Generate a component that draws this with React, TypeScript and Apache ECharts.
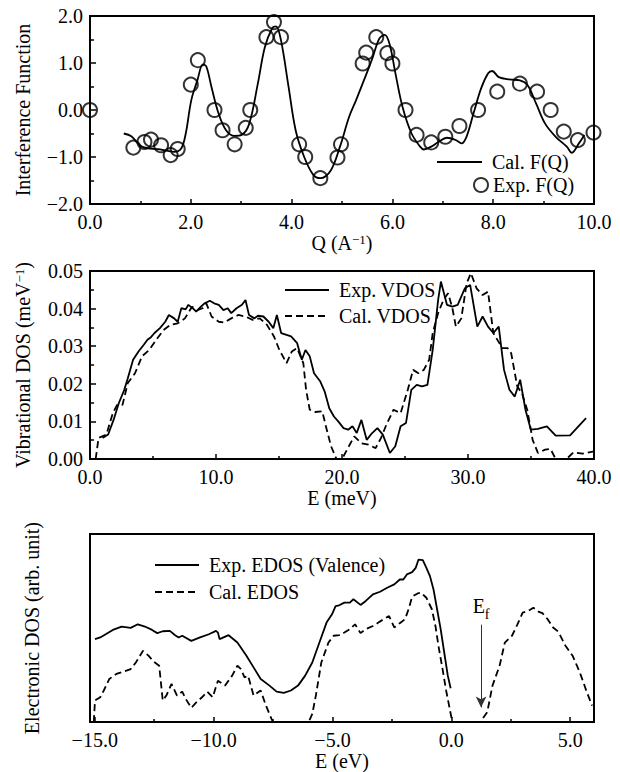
import React, { useEffect, useRef } from "react";
import * as echarts from "echarts";

const FONT = '"Liberation Serif", "Times New Roman", Times, serif';

// ---------- Panel 1: interference function ----------
const expQ = [0.0, 0.86, 1.08, 1.21, 1.41, 1.6, 1.74, 2.0, 2.14, 2.47, 2.63, 2.87, 3.09, 3.18, 3.5, 3.65, 3.79, 4.15, 4.27, 4.57, 4.91, 4.98, 5.41, 5.48, 5.68, 5.9, 6.0, 6.26, 6.48, 6.77, 7.05, 7.33, 7.7, 8.08, 8.53, 8.87, 9.14, 9.4, 9.68, 9.99];
const expF = [0.0, -0.8, -0.68, -0.63, -0.75, -0.96, -0.83, 0.54, 1.06, 0.0, -0.43, -0.73, -0.38, 0.0, 1.55, 1.87, 1.55, -0.73, -1.0, -1.45, -1.01, -0.73, 0.99, 1.22, 1.55, 1.21, 0.99, 0.0, -0.53, -0.69, -0.57, -0.34, 0.0, 0.39, 0.56, 0.39, 0.0, -0.46, -0.64, -0.48];

const calQ = [0.67, 0.82, 1.03, 1.39, 1.67, 1.81, 1.9, 2.01, 2.13, 2.24, 2.31, 2.41, 2.55, 2.7, 2.87, 3.01, 3.16, 3.33, 3.47, 3.62, 3.69, 3.79, 3.94, 4.08, 4.25, 4.43, 4.57, 4.78, 4.96, 5.14, 5.28, 5.46, 5.6, 5.74, 5.85, 5.95, 6.06, 6.2, 6.38, 6.55, 6.62, 6.77, 6.91, 7.08, 7.26, 7.37, 7.47, 7.61, 7.76, 7.9, 7.98, 8.11, 8.32, 8.53, 8.68, 8.85, 9.03, 9.24, 9.46, 9.56, 9.7, 9.81];
const calF = [-0.5, -0.56, -0.78, -0.84, -0.89, -0.82, -0.5, 0.21, 0.63, 0.97, 0.92, 0.49, -0.07, -0.43, -0.55, -0.53, -0.29, 0.56, 1.34, 1.75, 1.78, 1.48, 0.49, -0.43, -1.0, -1.38, -1.45, -1.28, -0.78, -0.15, 0.21, 0.7, 1.09, 1.52, 1.6, 1.38, 0.78, 0.07, -0.5, -0.78, -0.84, -0.78, -0.68, -0.59, -0.64, -0.71, -0.57, -0.07, 0.46, 0.78, 0.83, 0.7, 0.65, 0.63, 0.53, 0.14, -0.29, -0.57, -0.78, -0.91, -0.71, -0.53];

// ---------- Panel 2: vibrational DOS ----------
const expVE = [1.0, 1.44, 1.87, 2.29, 2.72, 3.0, 3.42, 3.85, 4.27, 4.56, 4.84, 5.12, 5.55, 5.97, 6.26, 6.68, 6.96, 7.25, 7.59, 7.81, 8.15, 8.43, 8.8, 9.09, 9.51, 9.85, 10.22, 10.59, 10.93, 11.21, 11.63, 12.06, 12.34, 12.62, 13.05, 13.33, 13.76, 14.18, 14.55, 14.83, 15.17, 15.6, 15.96, 16.44, 16.81, 17.1, 17.44, 17.78, 18.28, 18.62, 18.99, 19.36, 19.7, 20.12, 20.49, 20.83, 21.17, 21.54, 21.96, 22.39, 22.81, 23.24, 23.8, 24.23, 24.65, 25.08, 25.5, 25.93, 26.35, 26.78, 27.2, 27.63, 27.85, 28.33, 28.76, 29.18, 29.75, 30.17, 30.74, 31.16, 31.59, 32.01, 32.44, 32.86, 33.29, 33.71, 34.14, 34.56, 34.99, 35.55, 36.26, 36.96, 38.1, 39.37];
const expV = [0.0056, 0.0065, 0.0104, 0.0149, 0.0184, 0.0215, 0.0264, 0.0286, 0.0304, 0.0317, 0.0324, 0.0335, 0.0348, 0.0365, 0.0383, 0.0374, 0.0365, 0.0401, 0.0398, 0.041, 0.0401, 0.0392, 0.0405, 0.0414, 0.0421, 0.0414, 0.041, 0.0396, 0.0401, 0.0388, 0.0401, 0.041, 0.0423, 0.0383, 0.0374, 0.0381, 0.0379, 0.0365, 0.0348, 0.0383, 0.0335, 0.033, 0.0326, 0.0308, 0.0264, 0.029, 0.0273, 0.0228, 0.0206, 0.018, 0.0135, 0.0113, 0.01, 0.0082, 0.0078, 0.0087, 0.0069, 0.0104, 0.0051, 0.0069, 0.0082, 0.0065, 0.0016, 0.0034, 0.0087, 0.0096, 0.0184, 0.0197, 0.0193, 0.0197, 0.029, 0.0423, 0.0472, 0.041, 0.0405, 0.041, 0.0454, 0.0463, 0.0352, 0.0379, 0.0352, 0.0335, 0.0352, 0.0237, 0.0184, 0.0166, 0.0211, 0.0131, 0.0078, 0.008, 0.0087, 0.0062, 0.0063, 0.0109];

const calVE = [0.45, 0.68, 1.3, 1.81, 2.15, 2.58, 3.0, 3.57, 4.13, 4.7, 5.26, 5.83, 6.4, 6.96, 7.53, 8.1, 8.52, 8.94, 9.23, 9.65, 10.22, 10.64, 11.21, 11.77, 12.34, 12.91, 13.47, 14.04, 14.6, 15.03, 15.6, 16.02, 16.44, 16.93, 17.15, 17.44, 17.86, 18.43, 18.79, 19.13, 19.56, 20.0, 20.4, 20.97, 21.54, 22.1, 22.67, 23.1, 23.52, 24.09, 24.65, 25.22, 25.64, 26.07, 26.49, 26.92, 27.2, 27.63, 28.05, 28.42, 28.76, 29.04, 29.47, 29.89, 30.23, 30.68, 31.16, 31.59, 32.01, 32.72, 33.14, 33.43, 33.91, 34.28, 34.7, 35.13, 35.55, 36.12, 36.54, 36.96, 37.82, 38.38, 39.09, 40.0];
const calV = [0.0, 0.0056, 0.0065, 0.0122, 0.0144, 0.0144, 0.0202, 0.0228, 0.0273, 0.029, 0.0317, 0.0343, 0.0357, 0.0361, 0.0374, 0.0405, 0.0396, 0.0401, 0.0414, 0.0379, 0.0365, 0.0363, 0.0374, 0.0383, 0.0379, 0.037, 0.0374, 0.0357, 0.0326, 0.029, 0.0255, 0.0286, 0.0295, 0.0255, 0.0184, 0.0131, 0.0125, 0.0127, 0.0078, 0.0034, 0.0, 0.0, 0.0025, 0.006, 0.0042, 0.0038, 0.0029, 0.0056, 0.0091, 0.0131, 0.0122, 0.0184, 0.0237, 0.0228, 0.0237, 0.0264, 0.0335, 0.0388, 0.0423, 0.0441, 0.0401, 0.0352, 0.0374, 0.0467, 0.0494, 0.0454, 0.0436, 0.0445, 0.0335, 0.0295, 0.0295, 0.0281, 0.0193, 0.0175, 0.0131, 0.0051, 0.0016, 0.0025, 0.0027, 0.0, 0.0, 0.0018, 0.0014, 0.002];

// ---------- Panel 3: electronic DOS (arb. unit) ----------
const expEE = [-14.99, -14.77, -14.54, -14.24, -13.87, -13.49, -13.19, -12.89, -12.59, -12.37, -12.14, -11.84, -11.62, -11.47, -11.32, -10.94, -10.57, -10.2, -9.9, -9.82, -9.75, -9.37, -9.0, -8.62, -8.32, -8.02, -7.65, -7.35, -7.05, -6.75, -6.45, -6.15, -5.85, -5.55, -5.25, -5.02, -4.87, -4.72, -4.5, -4.27, -4.12, -3.82, -3.6, -3.3, -3.0, -2.7, -2.4, -2.17, -2.02, -1.87, -1.65, -1.5, -1.38, -1.2, -1.05, -0.9, -0.75, -0.6, -0.45, -0.3, -0.15, -0.03];
const expED = [0.441, 0.45, 0.467, 0.49, 0.508, 0.501, 0.52, 0.508, 0.49, 0.473, 0.483, 0.485, 0.462, 0.45, 0.459, 0.432, 0.45, 0.467, 0.485, 0.476, 0.441, 0.462, 0.423, 0.353, 0.291, 0.229, 0.194, 0.162, 0.155, 0.168, 0.194, 0.247, 0.317, 0.423, 0.529, 0.573, 0.617, 0.621, 0.635, 0.635, 0.653, 0.623, 0.644, 0.679, 0.693, 0.714, 0.732, 0.758, 0.758, 0.785, 0.797, 0.82, 0.864, 0.861, 0.82, 0.776, 0.705, 0.6, 0.494, 0.37, 0.247, 0.18];

const calEE = [-15.04, -14.99, -14.77, -14.62, -14.39, -14.09, -13.87, -13.49, -13.27, -12.97, -12.74, -12.52, -12.29, -12.14, -11.99, -11.77, -11.54, -11.32, -11.17, -10.94, -10.72, -10.49, -10.27, -10.04, -9.82, -9.52, -9.22, -9.0, -8.85, -8.7, -8.55, -8.32, -8.02, -7.8, -7.57, -7.5, -6.0, -5.85, -5.7, -5.47, -5.17, -4.95, -4.72, -4.5, -4.27, -4.05, -3.82, -3.6, -3.3, -3.07, -2.85, -2.62, -2.4, -2.17, -1.95, -1.8, -1.65, -1.42, -1.27, -1.05, -0.82, -0.67, -0.52, -0.37, -0.22, -0.07, 0.04, 1.21, 1.51, 1.73, 2.03, 2.25, 2.55, 2.78, 3.0, 3.23, 3.45, 3.68, 3.83, 4.05, 4.28, 4.5, 4.8, 5.1, 5.4, 5.7, 5.92];
const calED = [0.0, 0.115, 0.132, 0.168, 0.229, 0.256, 0.265, 0.282, 0.317, 0.379, 0.353, 0.321, 0.3, 0.115, 0.141, 0.203, 0.141, 0.162, 0.123, 0.076, 0.106, 0.132, 0.162, 0.132, 0.22, 0.194, 0.247, 0.3, 0.282, 0.238, 0.247, 0.141, 0.168, 0.088, 0.018, 0.0, 0.0, 0.044, 0.141, 0.317, 0.423, 0.459, 0.462, 0.476, 0.494, 0.52, 0.473, 0.494, 0.511, 0.529, 0.547, 0.564, 0.503, 0.526, 0.547, 0.6, 0.667, 0.684, 0.688, 0.661, 0.6, 0.511, 0.388, 0.282, 0.168, 0.071, 0.0, 0.0, 0.053, 0.194, 0.3, 0.423, 0.459, 0.52, 0.582, 0.591, 0.608, 0.586, 0.579, 0.547, 0.503, 0.48, 0.406, 0.353, 0.265, 0.159, 0.088];

const fermiE = 1.25;
const fermiArrow = [0.518, 0.078];

const xTicks3 = [-15, -10, -5, 0, 5];
const xMinorTicks3 = [-12.5, -7.5, -2.5, 2.5];

const zip = (a: number[], b: number[]) => a.slice(0, Math.min(a.length, b.length)).map((v, i) => [v, b[i]]);
const fmt = (d: number) => (v: number) => v.toFixed(d).replace("-", "\u2212");

const textBase = { fontFamily: FONT, fontSize: 20, color: "#000" };
const lineAxis = { show: true, onZero: false, lineStyle: { color: "#000", width: 2 } };
const supRich = { sup: { fontFamily: FONT, fontSize: 13, color: "#000", verticalAlign: "top" as const } };
const hideSymbol = { opacity: 0, color: "rgba(0,0,0,0)", borderWidth: 0 };

export default function App() {
  const ref = useRef<HTMLDivElement>(null);
  useEffect(() => {
    document.body.style.margin = "0";
    const chart = echarts.init(ref.current!, null, { renderer: "svg" });
    const tick = (len: number) => ({ show: true, inside: true, length: len, lineStyle: { color: "#000", width: 1.5 } });
    const minor = { show: true, splitNumber: 2, length: 3, lineStyle: { color: "#000", width: 1.5 } };
    const lineS = (dash: boolean) => ({ color: "#000", width: 1.8, type: dash ? [7, 4] : "solid" });

    chart.setOption({
      animation: false,
      backgroundColor: "#fff",
      grid: [
        { left: 90, top: 16, width: 504, height: 188, show: true, borderColor: "#000", borderWidth: 2 },
        { left: 90, top: 271, width: 504, height: 188, show: true, borderColor: "#000", borderWidth: 2 },
        { left: 90, top: 534, width: 504, height: 189, show: true, borderColor: "#000", borderWidth: 2 },
      ],
      xAxis: [
        {
          gridIndex: 0, type: "value", min: 0, max: 10, interval: 2,
          name: "Q (A{sup|\u22121})", nameLocation: "middle", nameGap: 28,
          nameTextStyle: { ...textBase, rich: supRich },
          axisLine: lineAxis, axisTick: tick(5), minorTick: minor, splitLine: { show: false },
          axisLabel: { ...textBase, margin: 8, formatter: fmt(1) },
        },
        {
          gridIndex: 1, type: "value", min: 0, max: 40, interval: 10,
          name: "E (meV)", nameLocation: "middle", nameGap: 28,
          nameTextStyle: { ...textBase },
          axisLine: lineAxis, axisTick: tick(5), minorTick: minor, splitLine: { show: false },
          axisLabel: { ...textBase, margin: 8, formatter: fmt(1) },
        },
        {
          gridIndex: 2, type: "value", min: -15.2, max: 6,
          name: "E (eV)", nameLocation: "middle", nameGap: 28,
          nameTextStyle: { ...textBase },
          axisLine: lineAxis,
          axisTick: { ...tick(5), customValues: xTicks3 },
          splitLine: { show: false },
          axisLabel: { ...textBase, margin: 8, formatter: fmt(1), customValues: xTicks3 },
        },
        {
          gridIndex: 2, type: "value", min: -15.2, max: 6, position: "bottom",
          axisLine: { show: false, onZero: false },
          axisTick: { ...tick(3), customValues: xMinorTicks3 },
          axisLabel: { show: false },
          splitLine: { show: false },
        },
      ],
      yAxis: [
        {
          gridIndex: 0, type: "value", min: -2, max: 2, interval: 1,
          name: "Interference Function", nameLocation: "middle", nameGap: 57, nameRotate: 90,
          nameTextStyle: { ...textBase },
          axisLine: lineAxis, axisTick: tick(6), minorTick: { ...minor, length: 4 }, splitLine: { show: false },
          axisLabel: { ...textBase, margin: 7, formatter: fmt(1) },
        },
        {
          gridIndex: 1, type: "value", min: 0, max: 0.05, interval: 0.01,
          name: "Vibrational DOS (meV{sup|\u22121})", nameLocation: "middle", nameGap: 57, nameRotate: 90,
          nameTextStyle: { ...textBase, rich: supRich },
          axisLine: lineAxis, axisTick: tick(6), minorTick: { ...minor, length: 4 }, splitLine: { show: false },
          axisLabel: { ...textBase, margin: 7, formatter: fmt(2) },
        },
        {
          gridIndex: 2, type: "value", min: 0, max: 1,
          name: "Electronic DOS (arb. unit)", nameLocation: "middle", nameGap: 48, nameRotate: 90,
          nameTextStyle: { ...textBase },
          axisLine: lineAxis, axisTick: { show: false }, axisLabel: { show: false }, splitLine: { show: false },
        },
      ],
      legend: [
        {
          data: ["Cal. F(Q)"], left: 436, top: 152, padding: 0, itemWidth: 45, itemHeight: 14,
          itemStyle: hideSymbol,
          textStyle: { ...textBase, padding: [0, 0, 0, 5] }, selectedMode: false,
        },
        {
          data: ["Exp. F(Q)"], left: 473, top: 175, padding: 0, itemWidth: 14, itemHeight: 14,
          textStyle: { ...textBase }, selectedMode: false,
          itemStyle: { color: "rgba(0,0,0,0)", borderColor: "#000", borderWidth: 2 },
        },
        {
          data: ["Exp. VDOS", "Cal. VDOS"], orient: "vertical", left: 284, top: 280, padding: 0,
          itemWidth: 44, itemHeight: 14, itemGap: 6, selectedMode: false,
          itemStyle: hideSymbol,
          textStyle: { ...textBase, padding: [0, 0, 0, 5] },
        },
        {
          data: ["Exp. EDOS (Valence)", "Cal. EDOS"], orient: "vertical", left: 154, top: 555, padding: 0,
          itemWidth: 44, itemHeight: 14, itemGap: 7, selectedMode: false,
          itemStyle: hideSymbol,
          textStyle: { ...textBase, padding: [0, 0, 0, 5] },
        },
      ],
      series: [
        {
          name: "Cal. F(Q)", type: "line", xAxisIndex: 0, yAxisIndex: 0, smooth: 0.35,
          symbol: "none", lineStyle: lineS(false), itemStyle: { color: "#000" }, data: zip(calQ, calF),
        },
        {
          name: "Exp. F(Q)", type: "scatter", xAxisIndex: 0, yAxisIndex: 0, symbol: "circle", symbolSize: 14, clip: false,
          itemStyle: { color: "rgba(0,0,0,0)", borderColor: "#000", borderWidth: 2 }, data: zip(expQ, expF),
        },
        {
          name: "Exp. VDOS", type: "line", xAxisIndex: 1, yAxisIndex: 1, symbol: "none",
          lineStyle: lineS(false), itemStyle: { color: "#000" }, data: zip(expVE, expV),
        },
        {
          name: "Cal. VDOS", type: "line", xAxisIndex: 1, yAxisIndex: 1, symbol: "none",
          lineStyle: lineS(true), itemStyle: { color: "#000" }, data: zip(calVE, calV),
        },
        {
          name: "Exp. EDOS (Valence)", type: "line", xAxisIndex: 2, yAxisIndex: 2, symbol: "none",
          lineStyle: lineS(false), itemStyle: { color: "#000" }, data: zip(expEE, expED),
        },
        {
          name: "Cal. EDOS", type: "line", xAxisIndex: 2, yAxisIndex: 2, symbol: "none",
          lineStyle: lineS(true), itemStyle: { color: "#000" }, data: zip(calEE, calED),
          markLine: {
            silent: true, symbol: ["none", "arrow"], symbolSize: [8, 11],
            lineStyle: { color: "#333", width: 1, type: "solid" },
            label: {
              show: true, position: "start", distance: 3,
              formatter: "{e|E}{sub|f}",
              rich: {
                e: { fontFamily: FONT, fontSize: 20, color: "#000", padding: [0, 0, 6, 0], verticalAlign: "bottom" },
                sub: { fontFamily: FONT, fontSize: 14, color: "#000", verticalAlign: "bottom" },
              },
            },
            data: [[{ coord: [fermiE, fermiArrow[0]] }, { coord: [fermiE, fermiArrow[1]] }]],
          },
        },
      ],
    });
    return () => chart.dispose();
  }, []);
  return <div ref={ref} style={{ width: 620, height: 772 }} />;
}
